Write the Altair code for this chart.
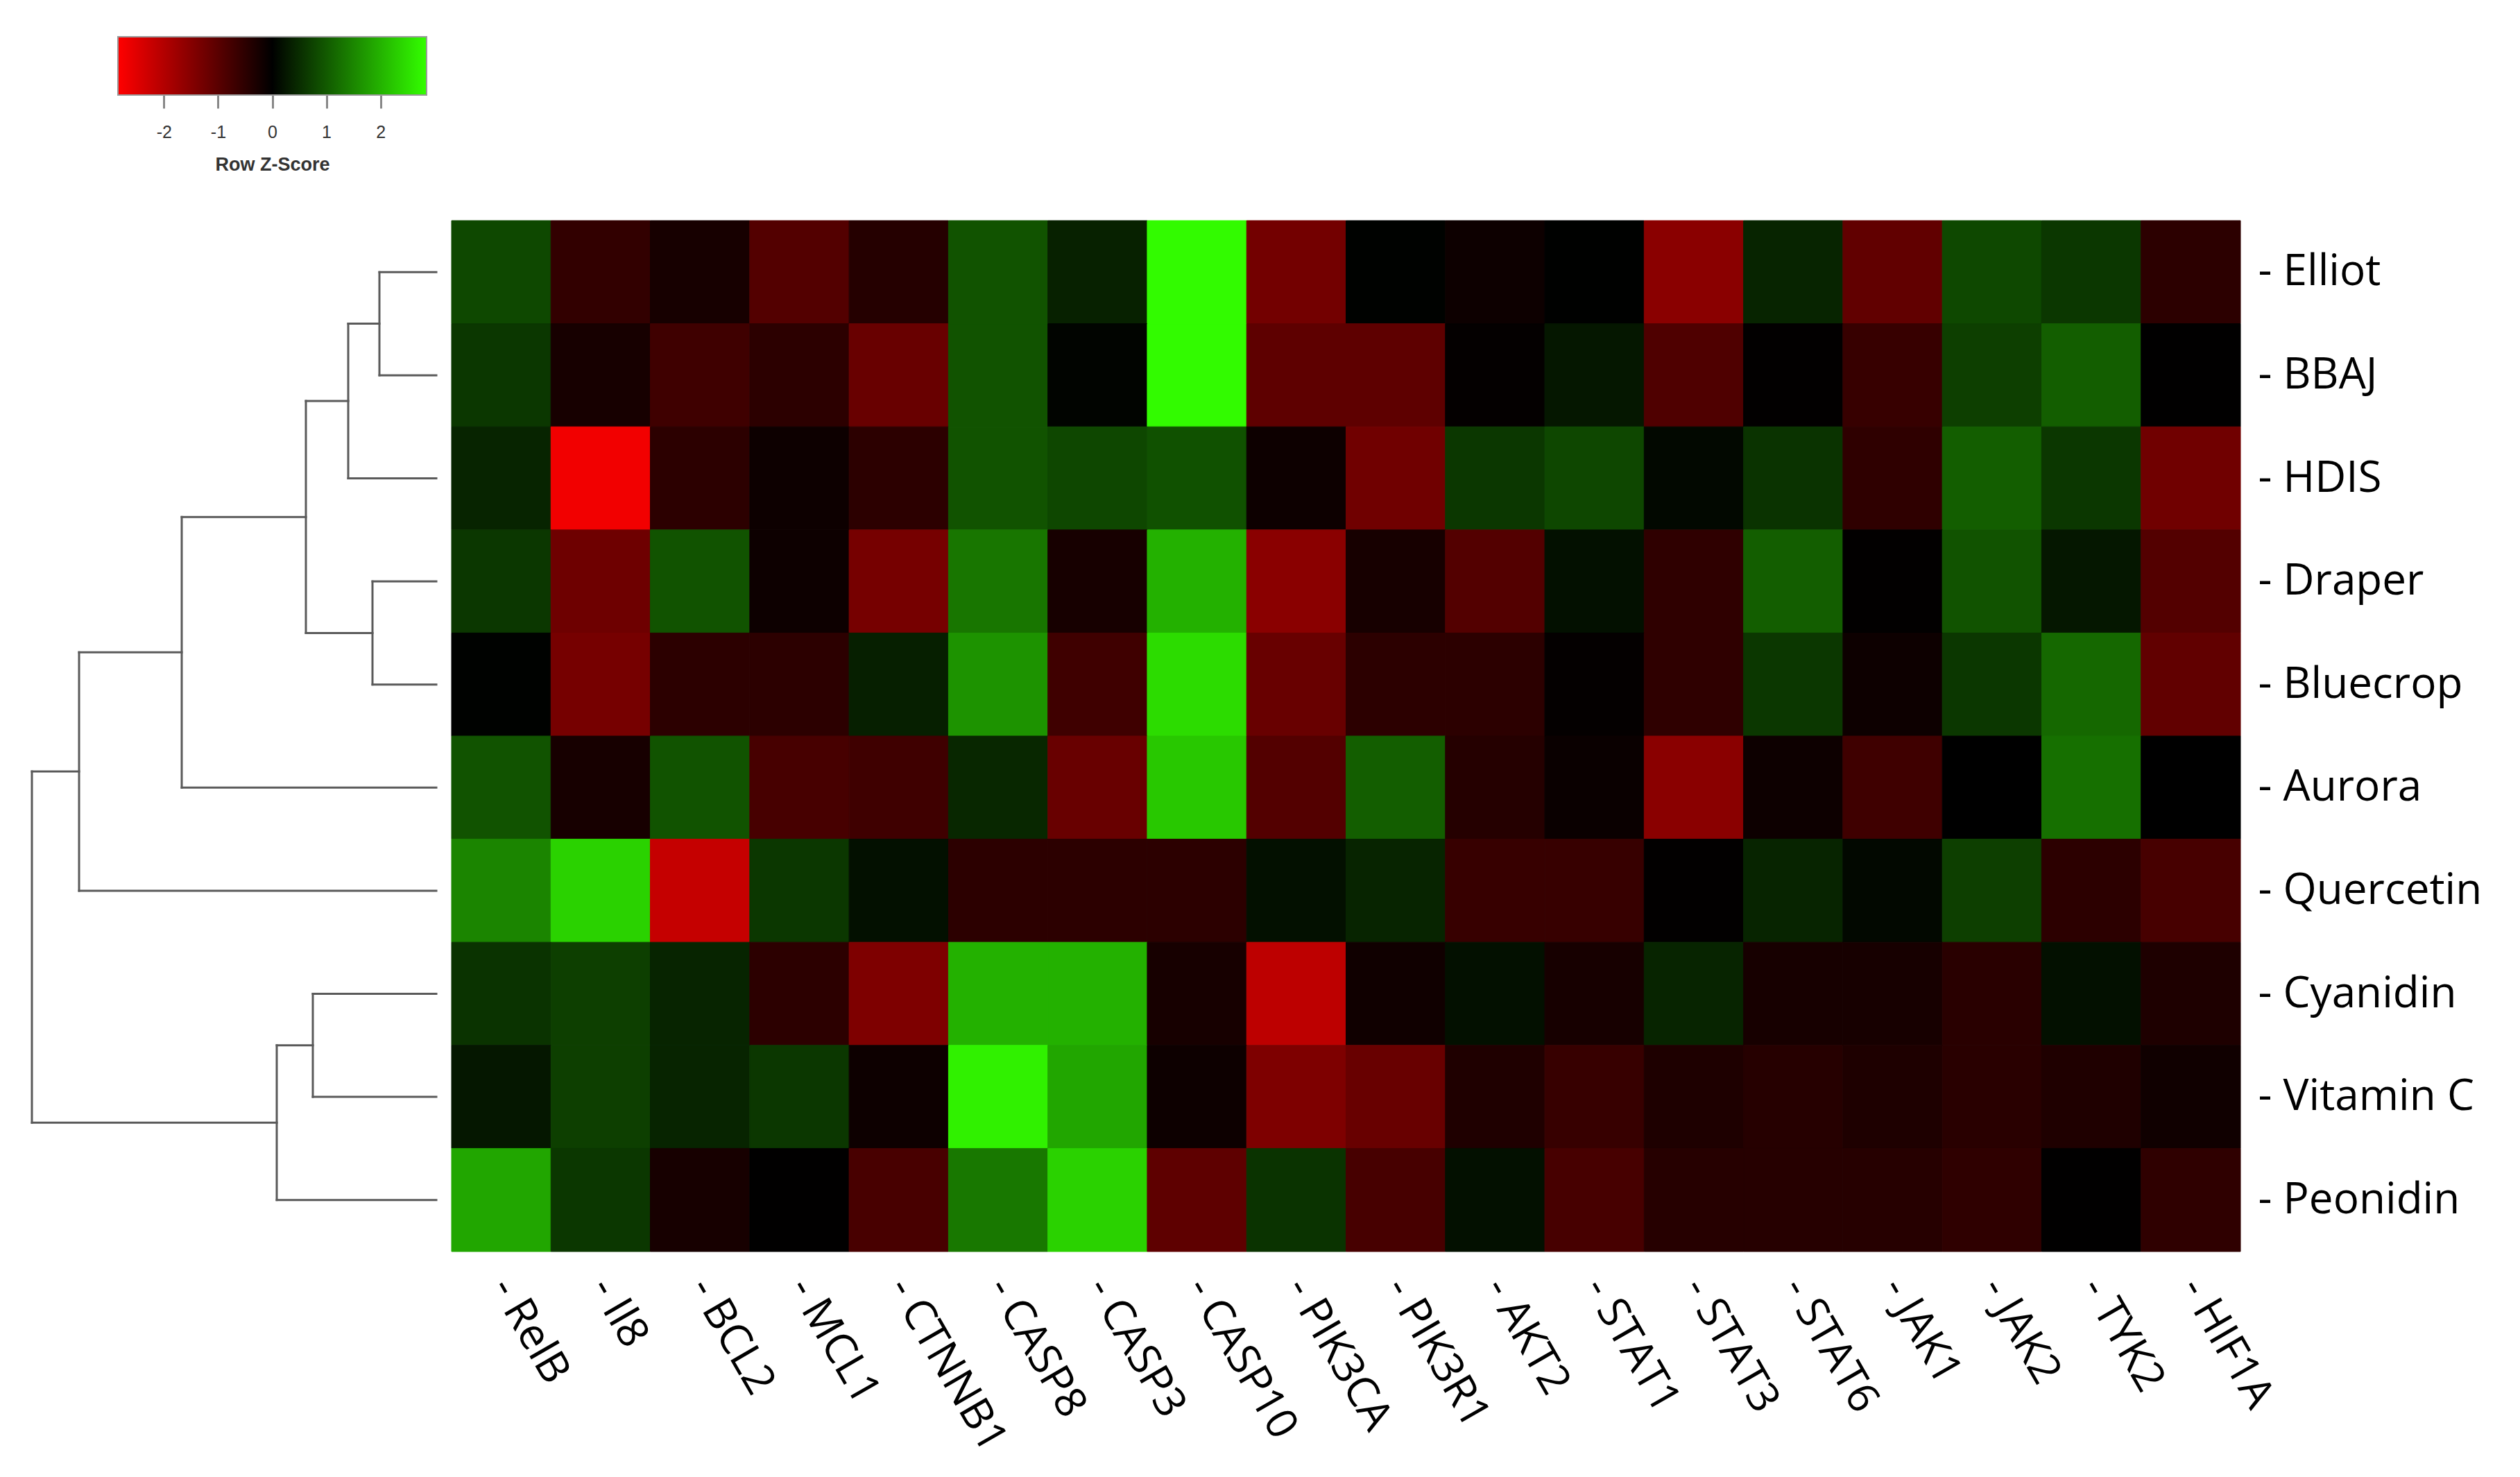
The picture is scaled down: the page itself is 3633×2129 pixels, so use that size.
import altair as alt
import pandas as pd

# ---- data ----
samples = ["Elliot", "BBAJ", "HDIS", "Draper", "Bluecrop", "Aurora",
           "Quercetin", "Cyanidin", "Vitamin C", "Peonidin"]
genes = ["RelB", "Il8", "BCL2", "MCL1", "CTNNB1", "CASP8", "CASP3", "CASP10",
         "PIK3CA", "PIK3R1", "AKT2", "STAT1", "STAT3", "STAT6", "JAK1", "JAK2",
         "TYK2", "HIF1A"]

z_elliot = [0.81, -0.56, -0.26, -0.93, -0.41, 0.93, 0.37, 2.80, -1.29, 0.02, -0.15, 0.01, -1.54, 0.40, -1.08, 0.81, 0.62, -0.49]
z_bbaj = [0.62, -0.26, -0.70, -0.49, -1.16, 0.93, 0.05, 2.80, -1.05, -1.05, -0.04, 0.26, -0.88, -0.02, -0.62, 0.70, 1.05, -0.01]
z_hdis = [0.40, -2.70, -0.49, -0.15, -0.49, 0.93, 0.79, 0.90, -0.15, -1.25, 0.62, 0.79, 0.09, 0.57, -0.53, 1.05, 0.62, -1.25]
z_draper = [0.62, -1.23, 0.93, -0.15, -1.32, 1.32, -0.26, 1.98, -1.54, -0.26, -0.93, 0.18, -0.53, 1.05, -0.02, 0.93, 0.26, -0.93]
z_bluecrop = [0.02, -1.32, -0.49, -0.49, 0.35, 1.64, -0.70, 2.46, -1.16, -0.49, -0.49, -0.04, -0.53, 0.62, -0.15, 0.62, 1.16, -1.08]
z_aurora = [0.93, -0.26, 0.93, -0.79, -0.70, 0.44, -1.16, 2.24, -0.93, 1.05, -0.41, -0.11, -1.54, -0.15, -0.70, 0.00, 1.25, 0.00]
z_quercetin = [1.49, 2.35, -2.20, 0.62, 0.18, -0.49, -0.49, -0.49, 0.18, 0.40, -0.62, -0.62, -0.02, 0.40, 0.09, 0.70, -0.49, -0.79]
z_cyanidin = [0.57, 0.70, 0.40, -0.49, -1.41, 1.98, 1.98, -0.26, -2.11, -0.18, 0.18, -0.26, 0.40, -0.26, -0.26, -0.46, 0.18, -0.33]
z_vitc = [0.26, 0.70, 0.40, 0.62, -0.15, 2.69, 1.85, -0.15, -1.41, -1.16, -0.35, -0.62, -0.33, -0.42, -0.33, -0.46, -0.35, -0.18]
z_peonidin = [1.85, 0.62, -0.26, -0.01, -0.81, 1.34, 2.35, -1.05, 0.57, -0.79, 0.18, -0.79, -0.42, -0.42, -0.42, -0.53, -0.01, -0.53]
z_rows = [z_elliot, z_bbaj, z_hdis, z_draper, z_bluecrop, z_aurora,
          z_quercetin, z_cyanidin, z_vitc, z_peonidin]

# dendrogram merges (child a, child b, merge height)
merge_a = ["Elliot", "m1", "Draper", "m2", "m4", "m5", "Cyanidin", "m7", "m6"]
merge_b = ["BBAJ", "HDIS", "Bluecrop", "m3", "Aurora", "Quercetin", "Vitamin C", "Peonidin", "m8"]
merge_h = [0.82, 1.27, 0.92, 1.88, 3.67, 5.15, 1.78, 2.30, 5.83]

key_lo = [-2.85]
key_hi = [2.85]
key_ticks = [-2, -1, 0, 1, 2]

# ---- build tables ----
heat_rows = []
for s, vals in zip(samples, z_rows):
    for g, v in zip(genes, vals):
        heat_rows.append({"sample": s, "gene": g, "z": v})
df_heat = pd.DataFrame(heat_rows)

pos = {s: i + 0.5 for i, s in enumerate(samples)}
hgt = {s: 0.0 for s in samples}
segs = []
for k, (a, b, h) in enumerate(zip(merge_a, merge_b, merge_h)):
    name = "m%d" % (k + 1)
    ya, yb = pos[a], pos[b]
    segs.append({"x1": hgt[a], "x2": h, "y1": ya, "y2": ya})
    segs.append({"x1": hgt[b], "x2": h, "y1": yb, "y2": yb})
    segs.append({"x1": h, "x2": h, "y1": ya, "y2": yb})
    pos[name] = (ya + yb) / 2
    hgt[name] = h
df_seg = pd.DataFrame(segs)

df_key = pd.DataFrame({"lo": key_lo, "hi": key_hi})

RED, BLACK, GREEN = "#ff0000", "#000000", "#33ff00"
color_scale = alt.Scale(domain=[key_lo[0], 0, key_hi[0]], range=[RED, BLACK, GREEN],
                        interpolate="rgb")

LABEL_FONT = "Open Sans"
LABEL_SIZE = 62

heat = alt.Chart(df_heat).mark_rect(strokeWidth=1).encode(
    x=alt.X("gene:N", sort=genes,
            scale=alt.Scale(paddingInner=0, paddingOuter=0),
            axis=alt.Axis(orient="bottom", title=None, ticks=False, domain=False,
                          labelAngle=60, labelAlign="left", labelBaseline="middle",
                          labelPadding=42, labelFont=LABEL_FONT, labelFontSize=LABEL_SIZE,
                          labelColor="black", labelLimit=2000, labelOverlap=False,
                          labelExpr="'- ' + datum.label")),
    y=alt.Y("sample:N", sort=samples,
            scale=alt.Scale(paddingInner=0, paddingOuter=0),
            axis=alt.Axis(orient="right", title=None, ticks=False, domain=False,
                          labelPadding=25, labelFont=LABEL_FONT, labelFontSize=LABEL_SIZE,
                          labelColor="black", labelLimit=2000, labelOverlap=False,
                          labelExpr="'- ' + datum.label")),
    color=alt.Color("z:Q", scale=color_scale, legend=None),
    stroke=alt.Stroke("z:Q", scale=color_scale, legend=None),
).properties(width=2579, height=1486)

dendro = alt.Chart(df_seg).mark_rule(color="#5a5a5a", strokeWidth=3, strokeCap="square").encode(
    x=alt.X("x1:Q", scale=alt.Scale(domain=[0, 6.21], reverse=True, nice=False, zero=False), axis=None),
    x2="x2:Q",
    y=alt.Y("y1:Q", scale=alt.Scale(domain=[0, 10], reverse=True, nice=False, zero=False), axis=None),
    y2="y2:Q",
).properties(width=621, height=1486)

gradient = alt.LinearGradient(
    gradient="linear", x1=0, y1=0, x2=1, y2=0,
    stops=[alt.GradientStop(color=RED, offset=0),
           alt.GradientStop(color=BLACK, offset=0.5),
           alt.GradientStop(color=GREEN, offset=1)])

key = alt.Chart(df_key).mark_rect(fill=gradient, stroke="#9a9a9a", strokeWidth=2).encode(
    x=alt.X("lo:Q",
            scale=alt.Scale(domain=[key_lo[0], key_hi[0]], range=[162, 607], nice=False, zero=False),
            axis=alt.Axis(values=key_ticks, domain=False, tickSize=19, tickWidth=3,
                          tickColor="#888888", labelFont="Liberation Sans", labelFontSize=25,
                          labelColor="#333333", labelPadding=22, grid=False,
                          labelExpr="toString(datum.value)",
                          title="Row Z-Score", titleFont="Liberation Sans", titleFontSize=27,
                          titleFontWeight="bold", titleColor="#333333", titlePadding=21)),
    x2="hi:Q",
).properties(width=621, height=84)

row = alt.hconcat(dendro, heat, spacing=22, bounds="flush")
chart = alt.vconcat(key, row, spacing=181, bounds="flush").properties(
    padding={"left": 0, "top": 44, "right": 10, "bottom": 10},
    background="white",
).configure_view(stroke=None)

chart.save("out.html", embed_options={"renderer": "svg", "actions": False})
